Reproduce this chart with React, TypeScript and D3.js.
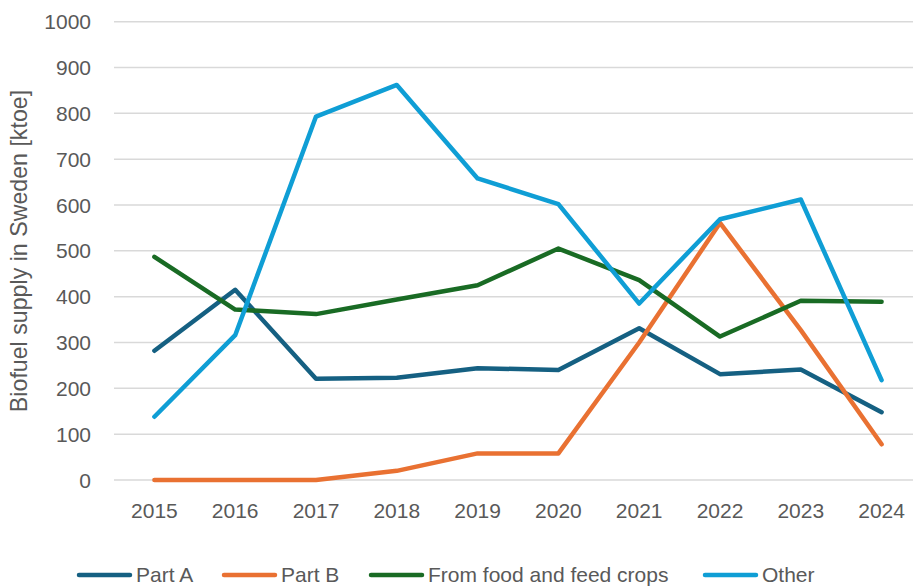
import React from "react";
import * as d3 from "d3";

const years = ["2015", "2016", "2017", "2018", "2019", "2020", "2021", "2022", "2023", "2024"];
const partA = [282, 415, 221, 223, 244, 240, 331, 231, 241, 148];
const partB = [0, 0, 0, 20, 58, 58, 300, 561, 327, 78];
const foodFeed = [487, 372, 362, 394, 425, 505, 436, 313, 391, 389];
const other = [138, 316, 793, 862, 658, 602, 385, 569, 612, 218];
const yTicks = [0, 100, 200, 300, 400, 500, 600, 700, 800, 900, 1000];
const seriesNames = ["Part A", "Part B", "From food and feed crops", "Other"];
const seriesColors = ["#156082", "#E97132", "#196B24", "#0F9ED5"];
const seriesData = [partA, partB, foodFeed, other];

const W = 913;
const H = 586;
const left = 114;
const right = 922;
const top = 21.7;
const bottom = 480;
const font = "'Liberation Sans', Arial, sans-serif";
const textColor = "#595959";
const legendX = [77, 222, 369, 703];

export default function App() {
  const x = d3.scalePoint<string>().domain(years).range([left, right]).padding(0.5);
  const y = d3.scaleLinear().domain([0, 1000]).range([bottom, top]);
  const line = d3
    .line<number>()
    .x((_, i) => x(years[i]) as number)
    .y((d) => y(d));

  return (
    <svg
      width={W}
      height={H}
      style={{ position: "absolute", left: 0, top: 0, background: "#fff" }}
      fontFamily={font}
    >
      {yTicks.map((t) => (
        <g key={t}>
          <line x1={left} x2={right} y1={y(t)} y2={y(t)} stroke="#d9d9d9" strokeWidth={1.5} />
          <text x={91} y={y(t)} dy="0.36em" textAnchor="end" fontSize={21} fill={textColor}>
            {t}
          </text>
        </g>
      ))}
      {years.map((yr) => (
        <text key={yr} x={x(yr)} y={518} textAnchor="middle" fontSize={21} fill={textColor}>
          {yr}
        </text>
      ))}
      <text
        transform={`translate(27, 251) rotate(-90)`}
        textAnchor="middle"
        fontSize={23.2}
        fill={textColor}
      >
        Biofuel supply in Sweden [ktoe]
      </text>
      {seriesData.map((s, i) => (
        <path
          key={seriesNames[i]}
          d={line(s) as string}
          fill="none"
          stroke={seriesColors[i]}
          strokeWidth={4.5}
          strokeLinejoin="round"
          strokeLinecap="round"
        />
      ))}
      {seriesNames.map((n, i) => (
        <g key={n} transform={`translate(${legendX[i]}, 575)`}>
          <line x1={2} x2={53} y1={0} y2={0} stroke={seriesColors[i]} strokeWidth={4.5} strokeLinecap="round" />
          <text x={59} y={6.5} fontSize={21} fill={textColor}>
            {n}
          </text>
        </g>
      ))}
    </svg>
  );
}
